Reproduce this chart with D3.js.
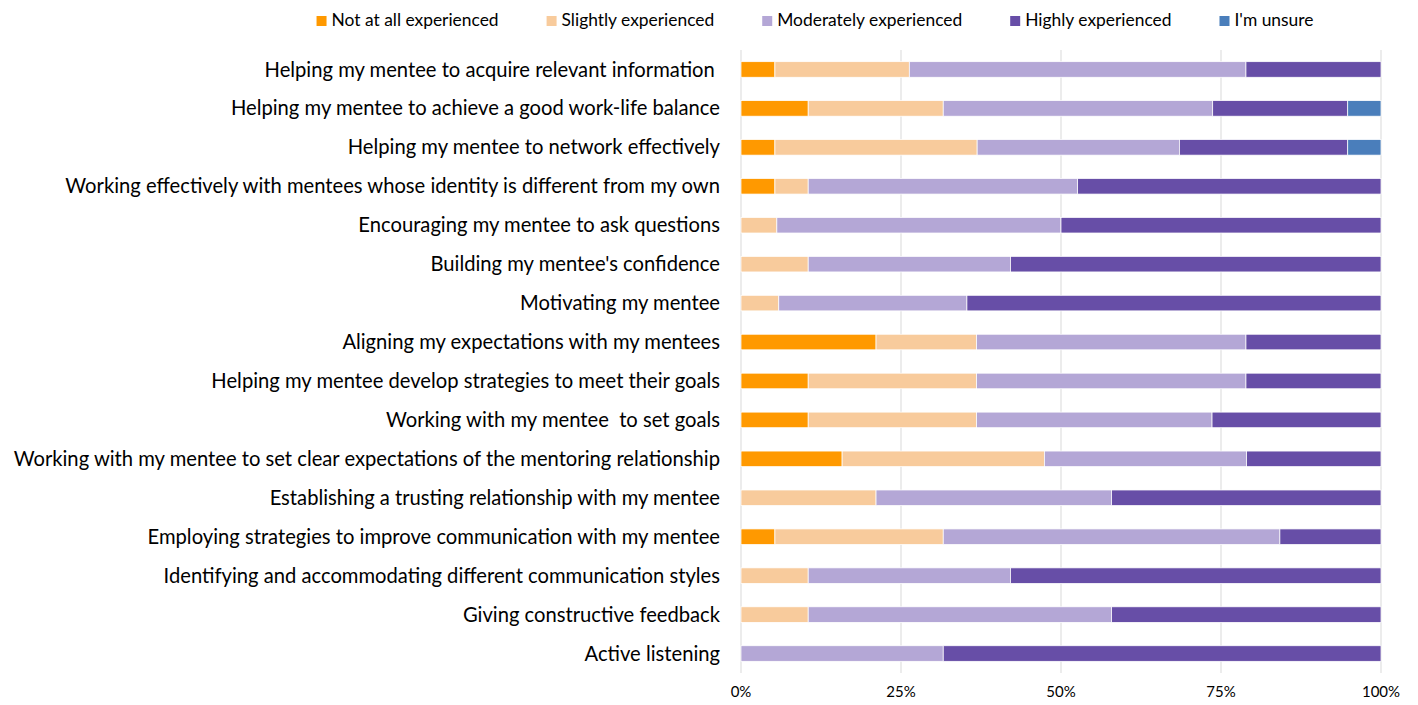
<!DOCTYPE html>
<html>
<head>
<meta charset="utf-8">
<script src="https://cdn.jsdelivr.net/npm/d3@7"></script>
<style>
  body { margin: 0; background: #fff; }
  text { font-family: Lato, "Open Sans", sans-serif; fill: #000; }
</style>
</head>
<body>
<div id="chart"></div>
<script>
// categories, top to bottom
const categories = [
  'Helping my mentee to acquire relevant information ',
  'Helping my mentee to achieve a good work-life balance',
  'Helping my mentee to network effectively',
  'Working effectively with mentees whose identity is different from my own',
  'Encouraging my mentee to ask questions',
  "Building my mentee's confidence",
  'Motivating my mentee',
  'Aligning my expectations with my mentees',
  'Helping my mentee develop strategies to meet their goals',
  'Working with my mentee  to set goals',
  'Working with my mentee to set clear expectations of the mentoring relationship',
  'Establishing a trusting relationship with my mentee',
  'Employing strategies to improve communication with my mentee',
  'Identifying and accommodating different communication styles',
  'Giving constructive feedback',
  'Active listening'
]

const seriesNames = ['Not at all experienced', 'Slightly experienced', 'Moderately experienced', 'Highly experienced', "I'm unsure"]
const seriesColors = ['#ff9900', '#f8cb9c', '#b4a7d6', '#674ea7', '#4a7ebb']

// percentages per category, same order as categories
const notAtAll   = [5.3, 10.5, 5.3, 5.3, 0, 0, 0, 21.1, 10.5, 10.5, 15.8, 0, 5.3, 0, 0, 0]
const slightly   = [21.0, 21.1, 31.6, 5.2, 5.6, 10.5, 5.9, 15.7, 26.3, 26.3, 31.6, 21.1, 26.3, 10.5, 10.5, 0]
const moderately = [52.6, 42.1, 31.6, 42.1, 44.4, 31.6, 29.4, 42.1, 42.1, 36.8, 31.6, 36.8, 52.6, 31.6, 47.4, 31.6]
const highly     = [21.1, 21.1, 26.3, 47.4, 50.0, 57.9, 64.7, 21.1, 21.1, 26.4, 21.0, 42.1, 15.8, 57.9, 42.1, 68.4]
const unsure     = [0, 5.2, 5.2, 0, 0, 0, 0, 0, 0, 0, 0, 0, 0, 0, 0, 0]

const ticks = [0, 25, 50, 75, 100]

const W = 1418
const H = 705
const margin = { top: 50, right: 37, bottom: 32, left: 741 }
const width = W - margin.left - margin.right
const height = H - margin.top - margin.bottom

const svg = d3.select('#chart').append('svg')
  .attr('width', W)
  .attr('height', H)

const g = svg.append('g').attr('transform', `translate(${margin.left},${margin.top})`)

const x = d3.scaleLinear().domain([0, 100]).range([0, width])
const y = d3.scaleBand().domain(categories).range([0, height]).paddingInner(0.6).paddingOuter(0.3)

// gridlines
g.append('g')
  .selectAll('line')
  .data(ticks)
  .enter().append('line')
  .attr('x1', d => x(d)).attr('x2', d => x(d))
  .attr('y1', 0).attr('y2', height)
  .attr('stroke', '#d9d9d9')
  .attr('stroke-width', 1)

// stack
const rows = categories.map((c, i) => ({
  cat: c,
  s0: notAtAll[i], s1: slightly[i], s2: moderately[i], s3: highly[i], s4: unsure[i]
}))
const stack = d3.stack().keys(['s0', 's1', 's2', 's3', 's4'])(rows)

g.append('g')
  .selectAll('g')
  .data(stack)
  .enter().append('g')
  .attr('fill', (d, i) => seriesColors[i])
  .selectAll('rect')
  .data(d => d.filter(v => v[1] - v[0] > 0))
  .enter().append('rect')
  .attr('x', d => x(d[0]))
  .attr('width', d => x(d[1]) - x(d[0]))
  .attr('y', d => y(d.data.cat))
  .attr('height', y.bandwidth())
  .attr('stroke', '#fff')
  .attr('stroke-width', 0.75)

// category labels
g.append('g')
  .selectAll('text')
  .data(categories)
  .enter().append('text')
  .attr('x', -21)
  .attr('y', d => y(d) + y.bandwidth() / 2)
  .attr('dy', '0.35em')
  .attr('text-anchor', 'end')
  .style('font-size', '20.2px')
  .style('white-space', 'pre')
  .text(d => d)

// x axis labels
g.append('g')
  .selectAll('text')
  .data(ticks)
  .enter().append('text')
  .attr('x', d => x(d))
  .attr('y', height + 24)
  .attr('text-anchor', 'middle')
  .style('font-size', '15px')
  .text(d => d + '%')

// legend
const legend = svg.append('g')
const items = legend.selectAll('g')
  .data(seriesNames)
  .enter().append('g')
items.append('rect')
  .attr('width', 10).attr('height', 10)
  .attr('y', -10)
  .attr('fill', (d, i) => seriesColors[i])
items.append('text')
  .attr('x', 15)
  .style('font-size', '17.4px')
  .text(d => d)

let lx = 0
const gap = 48
items.each(function () {
  const w = this.getBBox().width
  d3.select(this).attr('transform', `translate(${lx},0)`)
  lx += w + gap
})
const totalW = lx - gap
legend.attr('transform', `translate(${815 - totalW / 2},26)`)
</script>
</body>
</html>
